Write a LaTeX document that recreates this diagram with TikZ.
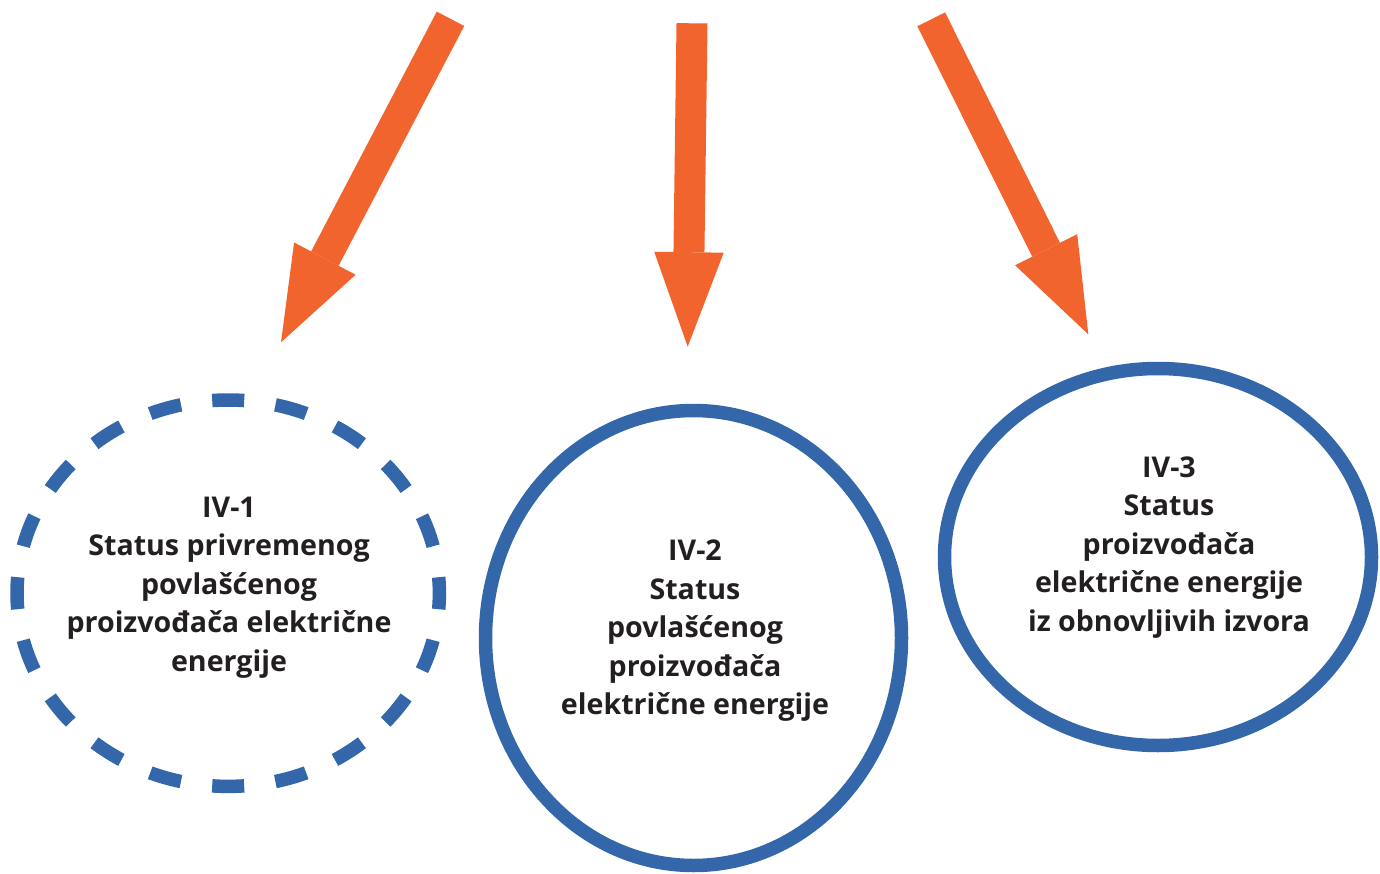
\documentclass[tikz,border=0pt]{standalone}
\usepackage{fontspec}
\setmainfont{Open Sans}
\usetikzlibrary{arrows.meta,shapes.geometric}
\definecolor{arroworange}{RGB}{242,100,45}
\definecolor{ringblue}{RGB}{51,103,169}
\definecolor{textdark}{RGB}{35,31,32}
\tikzset{
  bigarrow/.style={draw=arroworange,line width=31pt,line cap=butt,
    -{Triangle[length=94.5pt,width=69.5pt,line width=0pt,fill=arroworange,color=arroworange]}},
  ring/.style={draw=ringblue,line width=13.5pt,shape=ellipse,inner sep=0pt,outer sep=0pt},
  dashring/.style={ring,dash pattern=on 32pt off 31.56pt,dash phase=16pt},
  label/.style={text=textdark,align=center,inner sep=0pt,
    font=\fontsize{28.6}{38.5}\selectfont\bfseries}
}
\begin{document}
\begin{tikzpicture}[x=1pt,y=-1pt]
\useasboundingbox (0,0) rectangle (1380,874);
% ellipses
\node[dashring,minimum width=422.4pt,minimum height=386.4pt] (e1) at (228.2,593.2) {};
\node[ring,minimum width=416pt,minimum height=455pt] (e2) at (693.5,638) {};
\node[ring,minimum width=427pt,minimum height=377pt] (e3) at (1158,557) {};
% texts
\node[label] (t1) at (229,587.3) {IV-1\\Status privremenog\\povlašćenog\\proizvođača električne\\energije};
\node[label] (t2) at (695,630.8) {IV-2\\Status\\povlašćenog\\proizvođača\\električne energije};
\node[label] (t3) at (1169,547.3) {IV-3\\Status\\proizvođača\\električne energije\\iz obnovljivih izvora};
% arrows
\coordinate (a1s) at (450.5,18.8);
\coordinate (a1e) at (281,342.3);
\coordinate (a2s) at (692,23.3);
\coordinate (a2e) at (687.7,346.7);
\coordinate (a3s) at (931.2,19.3);
\coordinate (a3e) at (1088.3,334.3);
\draw[bigarrow] (a1s) -- (a1e);
\draw[bigarrow] (a2s) -- (a2e);
\draw[bigarrow] (a3s) -- (a3e);
\end{tikzpicture}
\end{document}
